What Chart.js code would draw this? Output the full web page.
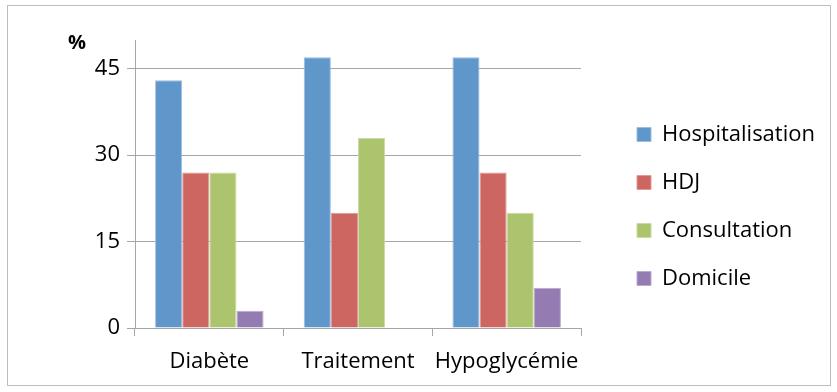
<!DOCTYPE html>
<html lang="fr">
<head>
<meta charset="UTF-8">
<title>Graphique</title>
<script src="https://cdn.jsdelivr.net/npm/chart.js@4.4.1/dist/chart.umd.min.js"></script>
<style>
  body { margin: 0; background: #fff; }
  #box { position: absolute; left: 7px; top: 5px; width: 822px; height: 379px; border: 1px solid #BDBDBD; }
  canvas { display: block; }
</style>
</head>
<body>
<div id="box"><canvas id="myChart" width="822" height="379"></canvas></div>

<script>
  // données
  const categories = ['Diabète', 'Traitement', 'Hypoglycémie'];
  const hospitalisation = [43, 47, 47];
  const hdj = [27, 20, 27];
  const consultation = [27, 33, 20];
  const domicile = [3, 0, 7];
  const yTicks = [0, 15, 30, 45];
  const yMax = 50;

  const gridColor = '#A6A6A6';
  const font = { family: '"Open Sans", sans-serif', size: 22 };

  // le "%" au-dessus de l'axe vertical
  const percentLabel = {
    id: 'percentLabel',
    afterDraw(chart) {
      const ctx = chart.ctx;
      const y = chart.scales.y;
      ctx.save();
      ctx.font = 'bold 20px "Open Sans", sans-serif';
      ctx.fillStyle = '#000';
      ctx.textAlign = 'center';
      ctx.textBaseline = 'middle';
      ctx.fillText('%', y.right - 58, y.top + 3);
      ctx.restore();
    }
  };

  // pousse la légende un peu vers la droite et vers le haut
  const legendGap = {
    id: 'legendGap',
    afterLayout(chart) {
      const lg = chart.legend;
      lg.left += 30;
      lg.right = lg.left + 240;
      lg.top -= 6;
      lg.bottom -= 6;
    }
  };

  function bar(label, data, color, border) {
    return { label, data, backgroundColor: color, borderColor: border, borderWidth: 1 };
  }

  const ctx = document.getElementById('myChart').getContext('2d');
  new Chart(ctx, {
    type: 'bar',
    data: {
      labels: categories,
      datasets: [
        bar('Hospitalisation', hospitalisation, '#6097CB', '#9DBDE0'),
        bar('HDJ', hdj, '#CD6660', '#E19A95'),
        bar('Consultation', consultation, '#ACC46D', '#CADAA0'),
        bar('Domicile', domicile, '#947BB2', '#BBA9CF')
      ]
    },
    options: {
      responsive: false,
      animation: false,
      layout: { padding: { top: 34, right: 58, left: 0, bottom: 0 } },
      datasets: { bar: { categoryPercentage: 0.73, barPercentage: 1 } },
      plugins: {
        legend: {
          position: 'right',
          labels: {
            font: font,
            color: '#000',
            boxWidth: 14,
            boxHeight: 14,
            padding: 26,
            useBorderRadius: false
          }
        },
        tooltip: { enabled: false }
      },
      scales: {
        x: {
          offset: true,
          grid: { offset: true, drawOnChartArea: false, color: gridColor, tickLength: 8 },
          border: { color: gridColor },
          ticks: { font: font, color: '#000', padding: 13, maxRotation: 0, autoSkip: false },
          afterFit(scale) { scale.height = 57; }
        },
        y: {
          min: 0,
          max: yMax,
          grid: { color: gridColor, tickLength: 8 },
          border: { color: gridColor },
          ticks: { font: font, color: '#000', padding: 7 },
          afterBuildTicks(scale) { scale.ticks = yTicks.map(v => ({ value: v })); },
          afterFit(scale) { scale.width = 127; }
        }
      }
    },
    plugins: [percentLabel, legendGap]
  });
</script>
</body>
</html>
